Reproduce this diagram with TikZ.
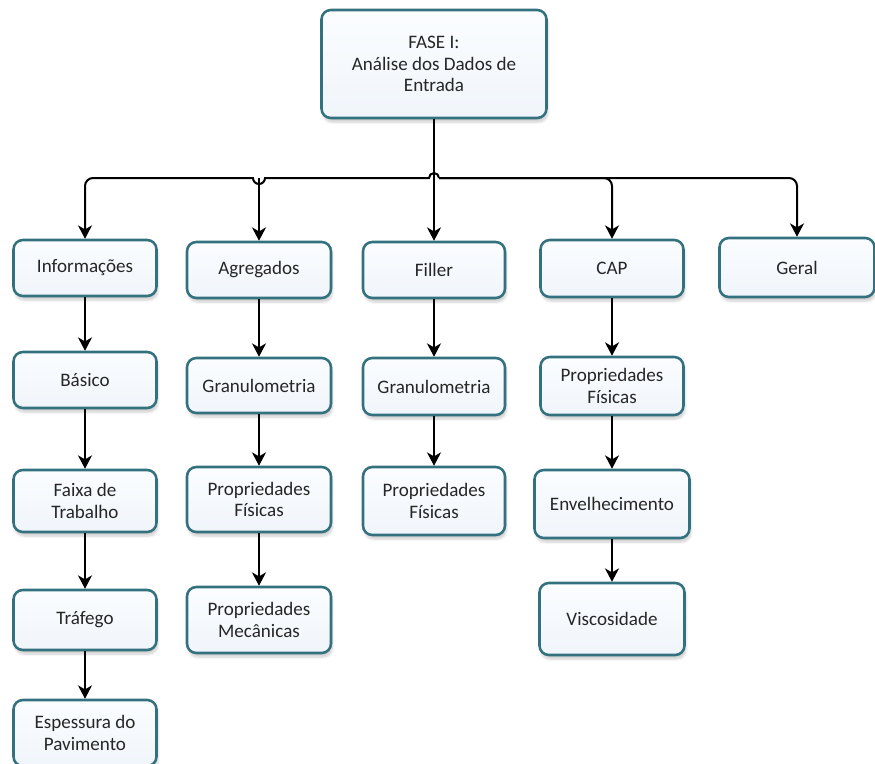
\documentclass[tikz,border=0pt]{standalone}
\usepackage{fontspec}
\setmainfont{Carlito}
\usetikzlibrary{arrows.meta,calc,shadows.blur}

\definecolor{boxline}{HTML}{33717F}
\definecolor{boxfill}{HTML}{F0F5FB}
\definecolor{boxfilltop}{HTML}{FBFDFF}

\tikzset{
  box/.style={draw=boxline, line width=1.9pt, rounded corners=7pt,
    top color=boxfilltop, bottom color=boxfill,
    blur shadow={shadow xshift=1pt, shadow yshift=-3pt, shadow opacity=20, shadow blur steps=6},
    align=center, inner sep=2pt, text=black!85,
    font=\fontsize{14.3}{16}\selectfont},
  link/.style={draw=black, line width=1.5pt},
  arr/.style={link, -{Stealth[length=10pt,width=10.5pt,inset=3pt]}},
}

\begin{document}
\begin{tikzpicture}[x=0.75pt,y=-0.75pt]
  \useasboundingbox (0,0) rectangle (875,764);

  % root
  \node[box, minimum width=225*0.75pt, minimum height=108*0.75pt] (top) at (434,64)
    {FASE I:\\Análise dos Dados de\\Entrada};

  % first level
  \node[box, minimum width=143*0.75pt, minimum height=56*0.75pt] (info)   at (85,268)  {Informações};
  \node[box, minimum width=144*0.75pt, minimum height=56*0.75pt] (agr)    at (259,270) {Agregados};
  \node[box, minimum width=142*0.75pt, minimum height=56*0.75pt] (filler) at (434,270) {Filler};
  \node[box, minimum width=143*0.75pt, minimum height=57*0.75pt] (cap)    at (612,268.5) {CAP};
  \node[box, minimum width=155*0.75pt, minimum height=59*0.75pt] (geral)  at (797,267.5) {Geral};

  % column: Informações
  \node[box, minimum width=143*0.75pt, minimum height=56*0.75pt] (basico)    at (85,380) {Básico};
  \node[box, minimum width=143*0.75pt, minimum height=62*0.75pt] (faixa)     at (85,501) {Faixa de\\Trabalho};
  \node[box, minimum width=143*0.75pt, minimum height=60*0.75pt] (trafego)   at (85,620) {Tráfego};
  \node[box, minimum width=143*0.75pt, minimum height=66*0.75pt] (espessura) at (85,733) {Espessura do\\Pavimento};

  % column: Agregados
  \node[box, minimum width=144*0.75pt, minimum height=55*0.75pt] (agrgran) at (259,385.5) {Granulometria};
  \node[box, minimum width=144*0.75pt, minimum height=65*0.75pt] (agrfis)  at (259,499.5) {Propriedades\\Físicas};
  \node[box, minimum width=144*0.75pt, minimum height=66*0.75pt] (agrmec)  at (259,620)   {Propriedades\\Mecânicas};

  % column: Filler
  \node[box, minimum width=142*0.75pt, minimum height=57*0.75pt] (filgran) at (434,386.5) {Granulometria};
  \node[box, minimum width=142*0.75pt, minimum height=68*0.75pt] (filfis)  at (434,501)   {Propriedades\\Físicas};

  % column: CAP
  \node[box, minimum width=143*0.75pt, minimum height=58*0.75pt] (capfis)  at (612,386) {Propriedades\\Físicas};
  \node[box, minimum width=155*0.75pt, minimum height=68*0.75pt] (capenv)  at (612,504) {Envelhecimento};
  \node[box, minimum width=145*0.75pt, minimum height=72*0.75pt] (capvis)  at (612,619) {Viscosidade};

  % distribution bus
  \coordinate (J) at (434,178);

  % trunk straight down to Filler
  \draw[arr] (top.south) -- (filler.north);

  % left branch: hops over the trunk and over the Agregados drop
  \draw[arr] ($(J)+(5,0)$) arc[start angle=0,end angle=180,radius=3.75pt]
    -- ($(agr.north|-J)+(6,0)$) arc[start angle=0,end angle=-180,radius=4.5pt]
    [rounded corners=6pt] -- (info.north|-J) -- (info.north);
  \draw[arr] (agr.north|-J) -- (agr.north);

  % right branch
  \draw[arr, rounded corners=6pt] ($(J)+(5,0)$) -| (cap.north);
  \draw[arr, rounded corners=6pt] ($(J)+(5,0)$) -| (geral.north);

  % vertical chains
  \draw[arr] (info.south) -- (basico.north);
  \draw[arr] (basico.south) -- (faixa.north);
  \draw[arr] (faixa.south) -- (trafego.north);
  \draw[arr] (trafego.south) -- (espessura.north);

  \draw[arr] (agr.south) -- (agrgran.north);
  \draw[arr] (agrgran.south) -- (agrfis.north);
  \draw[arr] (agrfis.south) -- (agrmec.north);

  \draw[arr] (filler.south) -- (filgran.north);
  \draw[arr] (filgran.south) -- (filfis.north);

  \draw[arr] (cap.south) -- (capfis.north);
  \draw[arr] (capfis.south) -- (capenv.north);
  \draw[arr] (capenv.south) -- (capvis.north);
\end{tikzpicture}
\end{document}
